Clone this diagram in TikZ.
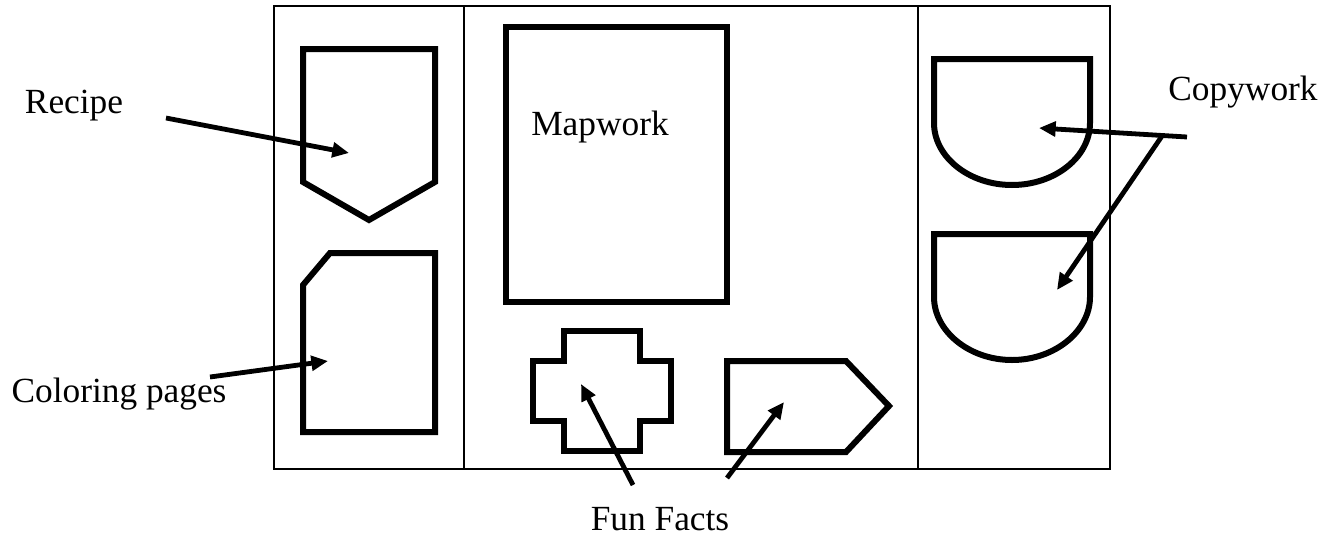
\documentclass[tikz,border=0pt]{standalone}
\usepackage{fontspec}
\setmainfont{Liberation Serif}
\usetikzlibrary{arrows.meta}
\begin{document}
\begin{tikzpicture}[x=0.75pt,y=-0.75pt,
  frameline/.style={line width=1.9pt},
  shapeline/.style={line width=4.5pt,line join=miter},
  pointer/.style={line width=3.6pt,-{Triangle[length=12.5pt,width=11pt]}},
  lbl/.style={font=\fontsize{26.5}{30}\selectfont,inner sep=0pt,anchor=base}]
\useasboundingbox (0,0) rectangle (1335,543);
% frame and panels
\draw[frameline] (274,6) rectangle (1110,469);
\draw[frameline] (464,6) -- (464,469);
\draw[frameline] (918,6) -- (918,469);
% recipe pentagon
\draw[shapeline] (303,49) -- (435,49) -- (435,182) -- (369,220) -- (303,182) -- cycle;
% coloring pages
\draw[shapeline] (330,253) -- (435,253) -- (435,432) -- (303,432) -- (303,285) -- cycle;
% mapwork
\draw[shapeline] (506,27) rectangle (727,302);
% cross
\draw[shapeline] (564,331) -- (640,331) -- (640,361) -- (671,361) -- (671,421) -- (640,421) -- (640,451) -- (564,451) -- (564,421) -- (533,421) -- (533,361) -- (564,361) -- cycle;
% arrow pentagon
\draw[shapeline] (727,361) -- (846,361) -- (889,406) -- (846,452) -- (727,452) -- cycle;
% copywork D shapes
\draw[shapeline] (934,59) -- (1090,59) -- (1090,123) .. controls (1090,157) and (1055,185) .. (1012,185) .. controls (969,185) and (934,157) .. (934,123) -- cycle;
\draw[shapeline] (934,234) -- (1090,234) -- (1090,297) .. controls (1090,331) and (1055,360) .. (1012,360) .. controls (969,360) and (934,331) .. (934,297) -- cycle;
% labels
\node[lbl] (recipe) at (74,113) {Recipe};
\node[lbl] (coloring) at (119,402) {Coloring pages};
\node[lbl] (mapwork) at (600,135) {Mapwork};
\node[lbl] (funfacts) at (660,530) {Fun Facts};
\node[lbl] (copywork) at (1243,100) {Copywork};
% arrow end points
\coordinate (rTail) at (166,118);
\coordinate (rTip) at (349,153);
\coordinate (cTail) at (210,377);
\coordinate (cTip) at (328,361);
\coordinate (f1Tail) at (633,485);
\coordinate (f1Tip) at (581,384);
\coordinate (f2Tail) at (727,478);
\coordinate (f2Tip) at (784,402);
\coordinate (cwTail) at (1187,137);
\coordinate (cwFork) at (1162,136);
\coordinate (cw1Tip) at (1039,128);
\coordinate (cw2Tip) at (1057,290);
% arrows
\draw[pointer] (rTail) -- (rTip);
\draw[pointer] (cTail) -- (cTip);
\draw[pointer] (f1Tail) -- (f1Tip);
\draw[pointer] (f2Tail) -- (f2Tip);
\draw[pointer] (cwTail) -- (cw1Tip);
\draw[pointer] (cwFork) -- (cw2Tip);
\end{tikzpicture}
\end{document}
